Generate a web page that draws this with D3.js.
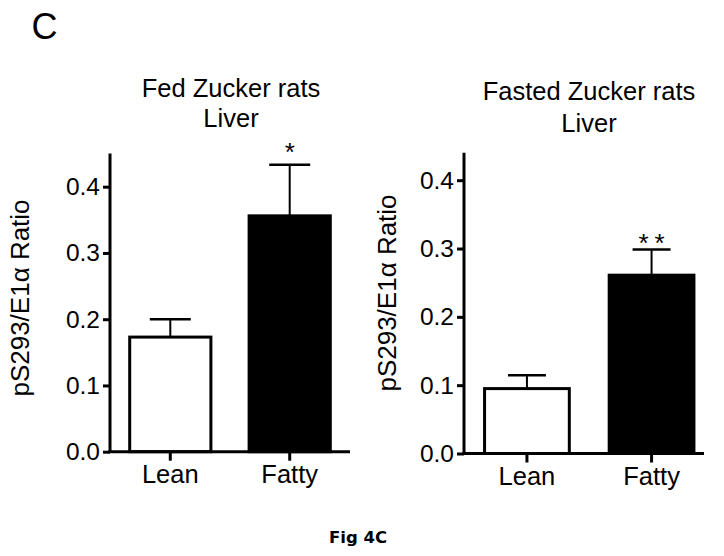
<!DOCTYPE html>
<html>
<head>
<meta charset="utf-8">
<script src="https://cdn.jsdelivr.net/npm/d3@7"></script>
<style>
  html, body { margin: 0; padding: 0; background: #fff; }
  svg { display: block; }
  text { font-family: "Liberation Sans", Arial, Helvetica, sans-serif; fill: #000; }
</style>
</head>
<body>
<svg id="chart" width="724" height="556"></svg>
<script>
// ---- data ----
const categories = ["Lean", "Fatty"];
const fedMeans = [0.173, 0.356];
const fedErrors = [0.027, 0.077];
const fedStars = ["", "*"];
const fastedMeans = [0.095, 0.261];
const fastedErrors = [0.0195, 0.0375];
const fastedStars = ["", "**"];
const yTicks = [0.0, 0.1, 0.2, 0.3, 0.4];
const fedTitle = ["Fed Zucker rats", "Liver"];
const fastedTitle = ["Fasted Zucker rats", "Liver"];
const yLabel = "pS293/E1\u03B1 Ratio";
const barFills = ["#fff", "#000"];

// ---- layout ----
const svg = d3.select("#chart");

svg.append("text").attr("x", 31.5).attr("y", 38.5)
  .style("font-size", "36px").text("C");

svg.append("text").attr("x", 358).attr("y", 543)
  .attr("text-anchor", "middle")
  .style("font-family", "'DejaVu Sans', Verdana, sans-serif")
  .style("font-weight", "bold").style("font-size", "16.5px")
  .text("Fig 4C");

const panels = [
  { means: fedMeans, errs: fedErrors, stars: fedStars, title: fedTitle,
    yTop: 0.45, y0: 451.7, y04: 186.7, axisX: 110, axisEnd: 350, bandRange: [110, 350],
    titleX: 231, titleY: [97, 127], labelX: 29, labelY: 298, capW: 41, starGap: 15 },
  { means: fastedMeans, errs: fastedErrors, stars: fastedStars, title: fastedTitle,
    yTop: 0.44, y0: 453.5, y04: 180.2, axisX: 464, axisEnd: 704, bandRange: [464, 714.5],
    titleX: 589, titleY: [100, 131.5], labelX: 396, labelY: 293, capW: 38, starGap: 9 }
];

panels.forEach(p => {
  const g = svg.append("g");
  const perUnit = (p.y0 - p.y04) / 0.4;
  const y = d3.scaleLinear().domain([0, p.yTop]).range([p.y0, p.y0 - p.yTop * perUnit]);
  const x = d3.scaleBand().domain(categories).range(p.bandRange)
    .paddingInner(0.32).paddingOuter(0.165);

  // bars
  g.selectAll("rect.bar").data(categories).join("rect")
    .attr("class", "bar")
    .attr("x", d => x(d))
    .attr("width", x.bandwidth())
    .attr("y", (d, i) => y(p.means[i]))
    .attr("height", (d, i) => y(0) - y(p.means[i]))
    .attr("fill", (d, i) => barFills[i])
    .attr("stroke", "#000").attr("stroke-width", 3);

  // error bars (upper only)
  categories.forEach((c, i) => {
    const cx = x(c) + x.bandwidth() / 2;
    const top = y(p.means[i] + p.errs[i]);
    g.append("line").attr("x1", cx).attr("x2", cx)
      .attr("y1", y(p.means[i])).attr("y2", top)
      .attr("stroke", "#000").attr("stroke-width", 2);
    g.append("line").attr("x1", cx - p.capW / 2).attr("x2", cx + p.capW / 2)
      .attr("y1", top).attr("y2", top)
      .attr("stroke", "#000").attr("stroke-width", 2.5);
    if (p.stars[i]) {
      // asterisk bottom sits ~0.44em above the baseline
      g.append("text").attr("x", cx + 3).attr("y", top - p.starGap + 0.44 * 26)
        .attr("text-anchor", "middle")
        .style("font-size", "26px")
        .style("letter-spacing", "6px")
        .text(p.stars[i]);
    }
  });

  // y axis
  const yAxis = g.append("g").attr("transform", `translate(${p.axisX},0)`)
    .call(d3.axisLeft(y).tickValues(yTicks).tickFormat(d3.format(".1f"))
      .tickSize(7).tickPadding(3));
  yAxis.select(".domain").attr("d", `M0,${y(0)}V${y(p.yTop)}`)
    .attr("stroke-width", 3);
  yAxis.selectAll(".tick line").attr("stroke-width", 3);
  yAxis.selectAll(".tick text").style("font-size", "24.5px")
    .style("font-family", "'Liberation Sans', Arial, sans-serif");

  // x axis
  const xAxis = g.append("g").attr("transform", `translate(0,${y(0)})`)
    .call(d3.axisBottom(x).tickSize(9).tickPadding(4));
  xAxis.select(".domain").remove();
  xAxis.selectAll(".tick line").attr("stroke-width", 3);
  xAxis.selectAll(".tick text").style("font-size", "25.5px")
    .style("font-family", "'Liberation Sans', Arial, sans-serif");
  g.append("line").attr("x1", p.axisX - 1.5).attr("x2", p.axisEnd)
    .attr("y1", y(0)).attr("y2", y(0))
    .attr("stroke", "#000").attr("stroke-width", 3);

  // titles
  p.title.forEach((t, k) => {
    g.append("text").attr("x", p.titleX).attr("y", p.titleY[k])
      .attr("text-anchor", "middle").style("font-size", "25.5px").text(t);
  });

  // y label
  g.append("text")
    .attr("transform", `translate(${p.labelX},${p.labelY}) rotate(-90)`)
    .attr("text-anchor", "middle").style("font-size", "26px")
    .text(yLabel);
});
</script>
</body>
</html>
